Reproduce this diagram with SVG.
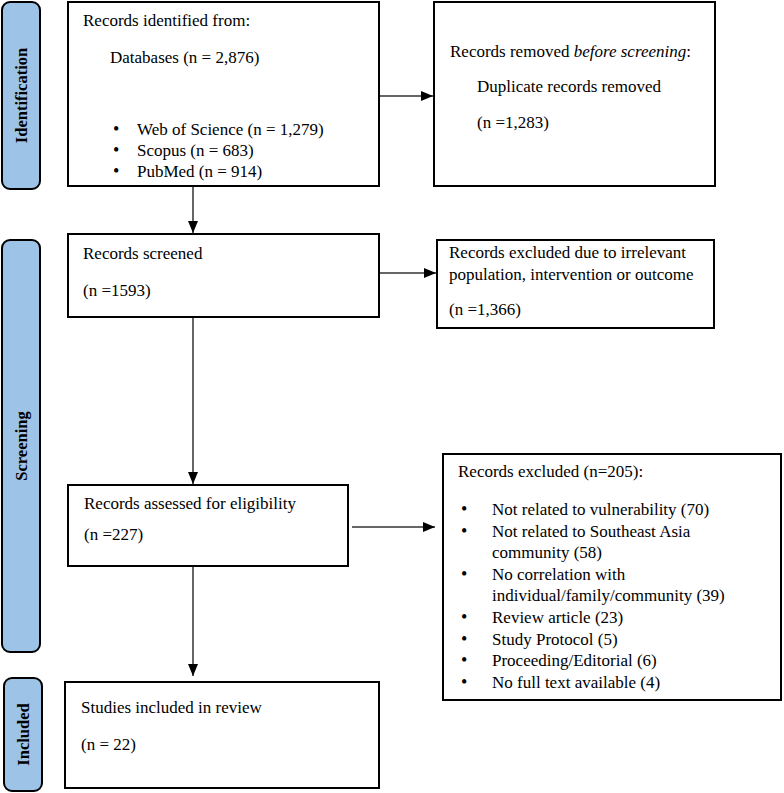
<svg xmlns="http://www.w3.org/2000/svg" width="784" height="793" viewBox="0 0 784 793">
<defs>
<style>
.phase{fill:#9DC3E6;stroke:#000;stroke-width:2}
.ptxt{font-family:"Liberation Serif","Times New Roman",serif;font-weight:bold;font-size:16.5px;fill:#000;text-anchor:middle}
.box{fill:#fff;stroke:#000;stroke-width:2}
.t{font-family:"Liberation Serif","Times New Roman",serif;font-size:17px;fill:#000}
.b{font-family:"Liberation Serif","Times New Roman",serif;font-size:18px;fill:#000}
.c{stroke:#333;stroke-width:1.5;fill:none;marker-end:url(#ah)}
</style>
<marker id="ah" viewBox="0 0 12 10" refX="12" refY="5" markerWidth="12" markerHeight="10" markerUnits="userSpaceOnUse" orient="auto">
<path d="M0,0 L12,5 L0,10 Z" fill="#000"/>
</marker>
</defs>
<rect width="784" height="793" fill="#fff"/>
<g id="phase-identification">
<rect class="phase" x="2" y="2" width="38" height="187" rx="8"/>
<text class="ptxt" transform="translate(27,95.5) rotate(-90)">Identification</text>
</g>
<g id="phase-screening">
<rect class="phase" x="2" y="240" width="38" height="412" rx="8"/>
<text class="ptxt" transform="translate(27,446) rotate(-90)">Screening</text>
</g>
<g id="phase-included">
<rect class="phase" x="4" y="678" width="38" height="113" rx="8"/>
<text class="ptxt" transform="translate(29,734.5) rotate(-90)">Included</text>
</g>
<g id="identified">
<rect class="box" x="68" y="2" width="311" height="184"/>
<text class="t" x="83" y="26">Records identified from:</text>
<text class="t" x="110" y="63">Databases (n = 2,876)</text>
<text class="b" x="113" y="135">•</text>
<text class="t" x="137" y="135">Web of Science (n = 1,279)</text>
<text class="b" x="113" y="156">•</text>
<text class="t" x="137" y="156">Scopus (n = 683)</text>
<text class="b" x="113" y="177">•</text>
<text class="t" x="137" y="177">PubMed (n = 914)</text>
</g>
<g id="removed">
<rect class="box" x="434" y="2" width="281" height="184"/>
<text class="t" x="450" y="57">Records removed <tspan font-style="italic">before screening</tspan>:</text>
<text class="t" x="477" y="92">Duplicate records removed</text>
<text class="t" x="477" y="128">(n =1,283)</text>
</g>
<g id="screened">
<rect class="box" x="68" y="234" width="311" height="83"/>
<text class="t" x="83" y="259">Records screened</text>
<text class="t" x="83" y="296">(n =1593)</text>
</g>
<g id="excluded1">
<rect class="box" x="437" y="240" width="277" height="88"/>
<text class="t" x="449" y="258">Records excluded due to irrelevant</text>
<text class="t" x="449" y="280">population, intervention or outcome</text>
<text class="t" x="449" y="315">(n =1,366)</text>
</g>
<g id="eligibility">
<rect class="box" x="68" y="485" width="280" height="81"/>
<text class="t" x="84" y="509">Records assessed for eligibility</text>
<text class="t" x="84" y="540">(n =227)</text>
</g>
<g id="excluded2">
<rect class="box" x="443" y="454" width="338" height="246"/>
<text class="t" x="458" y="477">Records excluded (n=205):</text>
<text class="b" x="461" y="515">•</text>
<text class="t" x="492" y="515">Not related to vulnerability (70)</text>
<text class="b" x="461" y="537">•</text>
<text class="t" x="492" y="537">Not related to Southeast Asia</text>
<text class="t" x="492" y="558">community (58)</text>
<text class="b" x="461" y="580">•</text>
<text class="t" x="492" y="580">No correlation with</text>
<text class="t" x="492" y="601">individual/family/community (39)</text>
<text class="b" x="461" y="623">•</text>
<text class="t" x="492" y="623">Review article (23)</text>
<text class="b" x="461" y="645">•</text>
<text class="t" x="492" y="645">Study Protocol (5)</text>
<text class="b" x="461" y="666">•</text>
<text class="t" x="492" y="666">Proceeding/Editorial (6)</text>
<text class="b" x="461" y="688">•</text>
<text class="t" x="492" y="688">No full text available (4)</text>
</g>
<g id="included">
<rect class="box" x="65" y="682" width="314" height="106"/>
<text class="t" x="81" y="713">Studies included in review</text>
<text class="t" x="81" y="750">(n = 22)</text>
</g>
<g id="connectors">
<line class="c" x1="193" y1="187" x2="193" y2="233"/>
<line class="c" x1="380" y1="96" x2="433" y2="96"/>
<line class="c" x1="380" y1="273" x2="436" y2="273"/>
<line class="c" x1="193" y1="318" x2="193" y2="484"/>
<line class="c" x1="352" y1="527" x2="435" y2="527"/>
<line class="c" x1="193" y1="567" x2="193" y2="676"/>
</g>
</svg>
